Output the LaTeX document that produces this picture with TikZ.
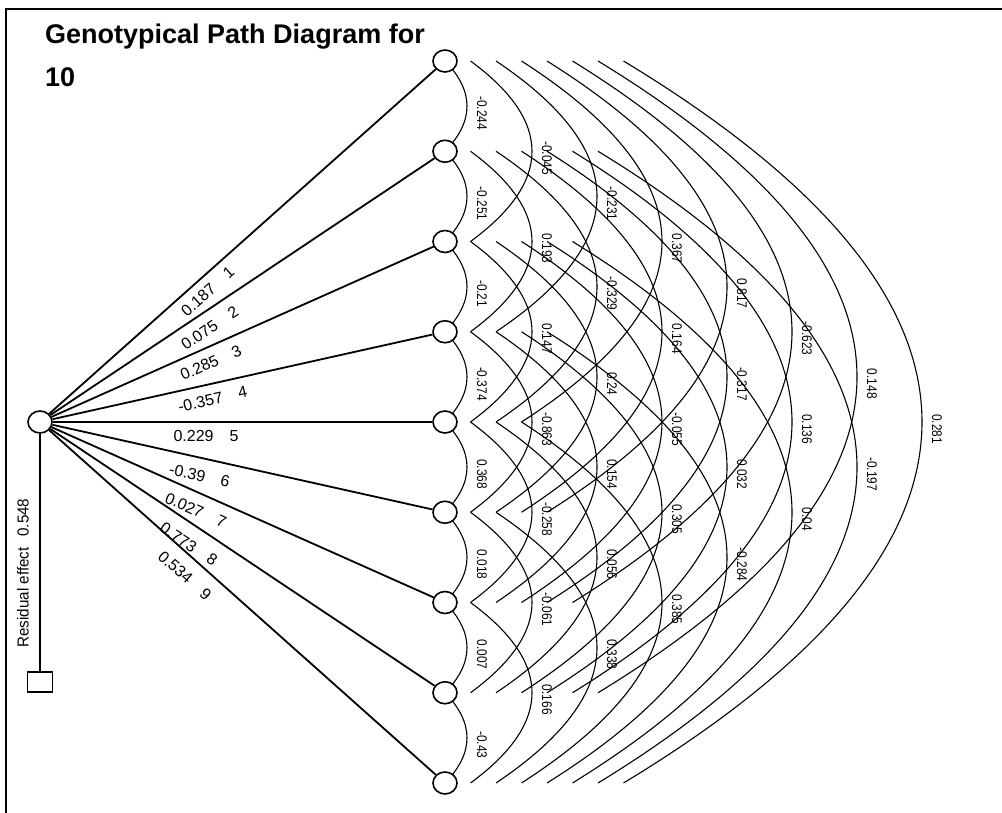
\documentclass[tikz,border=0pt]{standalone}
\usepackage{fontspec}
\usepackage{graphicx}
\setmainfont{Liberation Sans}
\usetikzlibrary{shapes.geometric,backgrounds,calc}
\begin{document}
\begin{tikzpicture}[x=1pt,y=-1pt,
  var/.style={ellipse, draw, line width=1.6pt, fill=white, minimum width=24pt, minimum height=22pt, inner sep=0pt},
  resid/.style={rectangle, draw, line width=1.6pt, fill=white, minimum width=25pt, minimum height=20pt, inner sep=0pt},
  pathline/.style={line width=1.8pt},
  residline/.style={line width=1.2pt},
  corr/.style={line width=1.1pt},
  frameline/.style={line width=2pt},
  plabel/.style={font=\fontsize{16}{16}\selectfont, inner sep=0pt},
  clabel/.style={font=\fontsize{14}{14}\selectfont, inner sep=0pt, rotate=-90},
  rlabel/.style={font=\fontsize{16}{16}\selectfont, inner sep=0pt, rotate=90},
  title/.style={font=\fontsize{27}{27}\selectfont\bfseries, inner sep=0pt, anchor=base west},
]
\useasboundingbox (0,0) rectangle (1002,813);
% frame
\coordinate (f1) at (1002,9);
\coordinate (f2) at (6,9);
\coordinate (f3) at (6,813);
\draw[frameline] (f1) -- (f2) -- (f3);
% title
\node[title] (t1) at (45,44) {Genotypical Path Diagram for};
\node[title] (t2) at (45,87) {10};
% variables
\node[var] (L) at (40,422) {};
\foreach \k in {1,...,9} {
  \node[var] (R\k) at (445,{61+90.25*(\k-1)}) {};
}
\node[resid] (S) at (40,682) {};
% path lines
\foreach \k in {1,...,9} {
  \draw[pathline] (L) -- (R\k);
}
\draw[residline] (L) -- (S);
% correlation curves
\begin{scope}[on background layer]
\foreach \i in {1,...,8} {
  \pgfmathtruncatemacro\ip{\i+1}
  \foreach \j in {\ip,...,9} {
    \pgfmathsetmacro\d{\j-\i}
    \pgfmathsetmacro\xs{25.5*(\d-1)}
    \pgfmathsetmacro\xa{22+65*(\d-1)}
    \pgfmathsetmacro\cx{\xs+4/3*(\xa-\xs)}
    \pgfmathsetmacro\dy{90.25*\d/3}
    \draw[corr] ($(R\i)+(\xs,0)$) .. controls ($(R\i)+(\cx,\dy)$) and ($(R\j)+(\cx,-\dy)$) .. ($(R\j)+(\xs,0)$);
  }
}
\end{scope}
% correlation labels
\foreach \i/\j/\v in {1/2/-0.244,2/3/-0.251,3/4/-0.21,4/5/-0.374,5/6/0.368,6/7/0.018,7/8/0.007,8/9/-0.43,
  1/3/-0.045,2/4/0.193,3/5/0.147,4/6/-0.863,5/7/-0.258,6/8/-0.061,7/9/0.166,
  1/4/-0.231,2/5/-0.329,3/6/0.24,4/7/0.154,5/8/0.056,6/9/0.338,
  1/5/0.367,2/6/0.164,3/7/-0.055,4/8/0.305,5/9/0.385,
  1/6/0.817,2/7/-0.317,3/8/0.032,4/9/-0.284,
  1/7/-0.623,2/8/0.136,3/9/0.04,
  1/8/0.148,2/9/-0.197,
  1/9/0.281} {
  \pgfmathsetmacro\d{\j-\i}
  \pgfmathsetmacro\lx{22+65*(\d-1)+15}
  \node[clabel] (c\i-\j) at ($(R\i)!0.5!(R\j)+(\lx,7)$) {\scalebox{0.85}[1]{\v}};
}
% path labels
\node[plabel, rotate=41.7] (p1) at (207.7,291.4) {0.187\hspace{16pt}1};
\node[plabel, rotate=33.8] (p2) at (209.8,327.8) {0.075\hspace{16pt}2};
\node[plabel, rotate=24.0] (p3) at (210.8,362.7) {0.285\hspace{16pt}3};
\node[plabel, rotate=12.6] (p4) at (212.6,399.2) {-0.357\hspace{16pt}4};
\node[plabel] (p5) at (206,436) {0.229\hspace{16pt}5};
\node[plabel, rotate=-12.6] (p6) at (199.6,475.8) {-0.39\hspace{16pt}6};
\node[plabel, rotate=-24.0] (p7) at (195.8,510.3) {0.027\hspace{16pt}7};
\node[plabel, rotate=-33.8] (p8) at (188.8,544.2) {0.773\hspace{16pt}8};
\node[plabel, rotate=-41.7] (p9) at (184.7,575.6) {0.534\hspace{16pt}9};
% residual label
\node[rlabel] (res) at (23,573) {\scalebox{0.95}[1]{Residual effect\hspace{0.7em}0.548}};
\end{tikzpicture}
\end{document}
